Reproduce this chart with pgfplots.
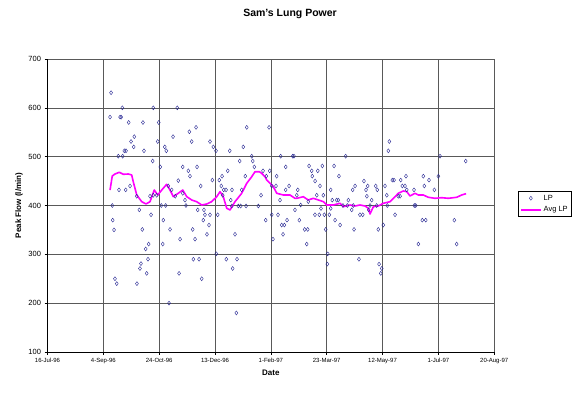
\documentclass[border=0pt]{standalone}
\usepackage{fontspec}
\setmainfont{Liberation Sans}
\usepackage{pgfplots}
\usepackage{pgfplotstable}
\pgfplotsset{compat=1.18}
\definecolor{navyb}{RGB}{0,0,128}
\definecolor{mag}{RGB}{255,0,255}
\pgfplotsset{
  lpleg/.style={legend image code/.code={\draw[##1] plot coordinates {(10pt,0pt)};}},
  avgleg/.style={legend image code/.code={\draw[##1] (0pt,0pt) -- (20pt,0pt);}},
}
\pgfplotstableread{
d v
56.9 631
67.0 600
94.7 600
116.2 600
56.0 581
65.0 581
66.0 581
72.7 570
85.5 570
99.6 570
127.0 551
133.0 560
77.7 541
112.4 541
74.8 531
98.7 531
129.1 531
77.2 520
105.0 520
68.8 512
70.3 512
86.4 512
106.4 512
63.4 501
67.3 501
94.2 491
101.0 479
121.1 479
126.1 471
133.9 479
127.6 460
117.1 451
64.0 432
70.0 432
73.9 440
108.2 440
111.2 432
79.9 419
91.8 419
97.8 421
114.4 419
121.1 425
94.7 421
123.1 411
58.0 400
82.2 391
92.7 381
101.9 400
105.8 400
124.0 400
134.5 391
58.4 370
103.7 370
59.6 350
84.9 351
109.7 351
130.0 351
90.6 321
87.9 311
103.2 321
118.7 331
132.1 331
90.0 290
130.6 290
135.7 290
83.7 281
82.8 271
88.8 261
117.8 261
60.4 250
62.0 240
80.1 240
108.8 200
178.4 560
198.4 560
145.5 531
148.5 520
150.9 512
163.2 512
175.3 520
172.1 491
182.9 501
183.8 491
185.2 479
208.8 501
219.6 501
220.7 501
161.4 471
156.3 460
147.6 452
153.8 452
177.1 460
193.0 471
199.0 471
195.9 460
205.2 460
213.3 479
137.2 440
155.6 440
157.8 432
159.9 432
165.2 432
173.9 432
200.8 440
204.6 440
216.3 440
213.3 432
156.9 421
191.2 421
208.2 411
164.1 411
165.0 399
170.9 399
173.0 399
177.8 399
188.8 399
140.1 391
141.0 381
145.5 381
152.4 381
139.5 370
144.6 360
142.8 341
167.9 341
195.4 370
200.8 381
206.4 381
214.5 370
209.7 360
212.1 360
210.9 341
201.9 331
221.6 391
151.2 301
160.1 290
169.7 290
165.8 271
138.1 250
169.1 180
267.0 501
306.1 531
305.2 512
234.2 481
246.1 481
256.6 481
236.6 471
242.0 471
237.1 460
261.0 460
239.6 450
244.0 440
283.4 450
275.4 440
286.7 440
293.9 440
302.2 440
224.1 432
253.6 432
273.3 432
285.2 432
295.3 432
223.2 421
241.1 421
247.0 421
286.0 419
255.0 411
258.9 411
260.4 411
269.4 411
290.3 411
233.5 408
303.8 421
226.7 401
264.6 400
273.8 400
288.8 400
294.8 400
244.9 394
253.6 394
239.5 381
243.4 381
247.9 381
252.4 381
225.5 370
257.5 370
262.0 360
272.4 391
279.8 381
282.3 381
268.5 400
287.6 391
300.7 360
230.3 351
233.0 351
249.1 351
274.5 351
296.2 351
232.1 321
250.9 301
250.6 280
278.9 290
296.9 280
299.3 271
298.4 261
304.3 400
351.5 501
374.5 491
308.8 452
310.3 452
316.3 452
321.0 460
336.5 460
341.6 452
350.0 460
317.7 440
320.1 440
337.4 440
321.7 432
328.2 432
346.4 432
314.1 419
315.7 419
328.5 400
329.7 400
311.2 381
335.6 370
338.7 370
364.3 370
332.1 321
366.4 321
}\lp
\pgfplotstableread{
d v
56.0 431.7
58.0 460.4
60.4 464.5
64.3 468.0
67.9 463.9
72.4 464.5
75.4 462.5
76.8 448.7
79.9 421.5
84.4 407.8
88.2 403.1
91.8 407.8
95.6 431.7
98.7 421.5
102.3 431.7
106.7 443.4
109.7 431.7
112.7 418.0
117.1 425.0
121.1 431.7
124.7 418.0
129.1 411.3
133.6 407.8
138.1 401.0
142.6 403.1
147.0 407.8
151.5 418.0
154.5 428.3
157.4 418.0
160.5 394.3
163.4 390.8
167.9 407.8
173.9 425.0
178.4 445.5
182.9 459.0
185.8 469.2
189.7 469.2
191.8 465.9
194.8 459.0
196.3 452.2
199.3 445.5
202.2 438.5
205.3 425.0
211.2 421.5
217.2 421.5
221.6 414.7
223.2 414.7
229.1 418.0
233.5 411.3
238.0 414.7
242.5 411.3
247.0 407.8
250.0 401.0
255.9 401.0
261.9 404.5
264.9 397.5
270.9 401.0
275.4 399.0
279.8 401.0
284.3 399.0
287.3 394.3
288.8 382.6
291.8 397.5
296.2 399.0
300.7 404.5
306.7 407.8
311.2 418.0
314.1 425.0
318.6 429.7
321.7 428.3
324.6 419.5
329.1 425.0
332.1 421.5
336.5 421.5
341.0 416.8
347.0 414.7
353.0 416.0
358.9 414.7
366.4 416.8
370.9 421.5
374.8 424.2
}\avg
\begin{document}
\begin{tikzpicture}
\useasboundingbox[fill=white] (0,0) rectangle (575pt,393pt);
\begin{axis}[
  at={(47.5pt,41pt)}, anchor=south west,
  scale only axis, width=446.7pt, height=293pt,
  xmin=0, xmax=400, ymin=100, ymax=700,
  xtick={0,50,...,400},
  xticklabels={16-Jul-96,4-Sep-96,24-Oct-96,13-Dec-96,1-Feb-97,23-Mar-97,12-May-97,1-Jul-97,20-Aug-97},
  ytick={100,200,...,700},
  axis x line*=bottom, axis y line*=left,
  axis line style={black, line width=0.6pt, -},
  tick align=outside, major tick length=3pt,
  tick style={black, line width=0.6pt},
  grid=major, grid style={black!65, line width=0.6pt},
  /pgf/number format/assume math mode=true,
  xticklabel style={font=\fontsize{6}{7}\selectfont},
  yticklabel style={font=\fontsize{7.5}{8}\selectfont},
  title={Sam's Lung Power},
  title style={font=\bfseries\fontsize{10.5}{12}\selectfont, at={(axis description cs:0.543,1.133)}, anchor=center},
  xlabel={Date},
  xlabel style={font=\bfseries\fontsize{8}{9}\selectfont, at={(axis description cs:0.5,-0.0717)}, anchor=center},
  ylabel={Peak Flow (l/min)},
  ylabel style={font=\bfseries\fontsize{8}{9}\selectfont, at={(axis description cs:-0.0638,0.5)}, anchor=center},
  legend style={at={(axis description cs:1.054,0.549)}, anchor=north west, draw=black, line width=0.5pt,
    font=\fontsize{7.5}{9}\selectfont, inner sep=1.5pt, row sep=1pt, cells={anchor=west}},
]
\addplot[only marks, mark=diamond, mark size=2pt, navyb!85, mark options={line width=0.4pt, fill=none}, lpleg]
  table[x=d,y=v] {\lp};
\addlegendentry{LP}
\addplot[mag, line width=1.6pt, line join=round, no marks, avgleg] table[x=d,y=v] {\avg};
\addlegendentry{Avg LP}
\end{axis}
\end{tikzpicture}
\end{document}
